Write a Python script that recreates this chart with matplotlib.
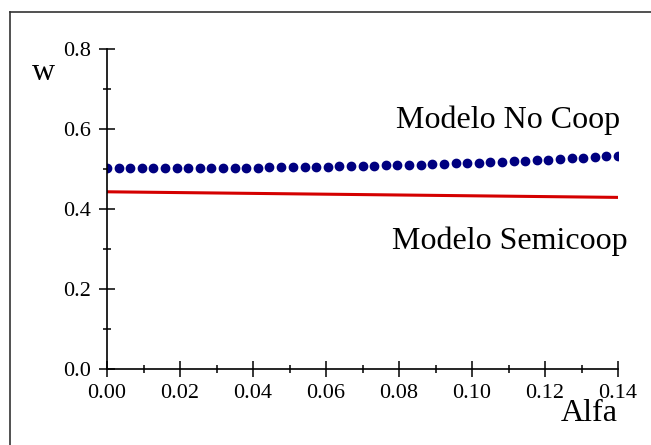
import matplotlib
matplotlib.use('Agg')
import matplotlib.pyplot as plt
from matplotlib.lines import Line2D
from matplotlib.ticker import MultipleLocator, FormatStrFormatter

plt.rcParams['font.family'] = ['Liberation Serif', 'DejaVu Serif']

# Modelo No Coop (puntos)
alfa_nc = [0.0000, 0.0032, 0.0064, 0.0095, 0.0127, 0.0159, 0.0191, 0.0223, 0.0255,
           0.0286, 0.0318, 0.0350, 0.0382, 0.0414, 0.0445, 0.0477, 0.0509, 0.0541,
           0.0573, 0.0605, 0.0636, 0.0668, 0.0700, 0.0732, 0.0764, 0.0795, 0.0827,
           0.0859, 0.0891, 0.0923, 0.0955, 0.0986, 0.1018, 0.1050, 0.1082, 0.1114,
           0.1145, 0.1177, 0.1209, 0.1241, 0.1273, 0.1305, 0.1336, 0.1368, 0.1400]
w_nc = [0.5020, 0.5020, 0.5020, 0.5020, 0.5021, 0.5021, 0.5022, 0.5023, 0.5024,
        0.5026, 0.5028, 0.5030, 0.5032, 0.5035, 0.5038, 0.5041, 0.5045, 0.5049,
        0.5053, 0.5058, 0.5063, 0.5069, 0.5075, 0.5081, 0.5088, 0.5095, 0.5103,
        0.5111, 0.5120, 0.5129, 0.5139, 0.5149, 0.5160, 0.5171, 0.5183, 0.5195,
        0.5208, 0.5221, 0.5235, 0.5249, 0.5264, 0.5280, 0.5296, 0.5313, 0.5330]

# Modelo Semicoop (linea)
alfa_sc = [0.0, 0.035, 0.07, 0.105, 0.14]
w_sc = [0.443, 0.4395, 0.436, 0.4325, 0.429]

fig = plt.figure(figsize=(6.51, 4.45), dpi=100)
ax = fig.add_axes([0.1644, 0.1708, 0.785, 0.7191])

ax.plot(alfa_sc, w_sc, color='#d40000', linewidth=2.2, solid_capstyle='round')
ax.plot(alfa_nc, w_nc, linestyle='none', marker='o', markersize=6,
        color='#000080')

ax.set_xlim(0, 0.14)
ax.set_ylim(0, 0.8)
ax.spines['top'].set_visible(False)
ax.spines['right'].set_visible(False)
ax.spines['left'].set_linewidth(1.2)
ax.spines['bottom'].set_linewidth(1.2)

ax.xaxis.set_major_locator(MultipleLocator(0.02))
ax.xaxis.set_minor_locator(MultipleLocator(0.01))
ax.yaxis.set_major_locator(MultipleLocator(0.2))
ax.yaxis.set_minor_locator(MultipleLocator(0.1))
ax.xaxis.set_major_formatter(FormatStrFormatter('%.2f'))
ax.yaxis.set_major_formatter(FormatStrFormatter('%.1f'))
ax.tick_params(which='major', direction='inout', length=11, width=1.1,
               labelsize=16)
ax.tick_params(axis='x', which='major', pad=5)
ax.tick_params(axis='y', which='major', pad=6)
ax.tick_params(which='minor', direction='inout', length=6, width=1.1)

ax.text(0.1405, 0.6025, 'Modelo No Coop', fontsize=23, ha='right', va='baseline')
ax.text(0.1425, 0.30, 'Modelo Semicoop', fontsize=23, ha='right', va='baseline')

fig.text(44 / 651, 1 - 80 / 445, 'w', fontsize=23, ha='center', va='baseline')
fig.text(589 / 651, 1 - 421 / 445, 'Alfa', fontsize=23, ha='center', va='baseline')

# marco de la figura
fig.add_artist(Line2D([10 / 651, 10 / 651], [0, 1 - 12 / 445],
                      transform=fig.transFigure, color='#333333', linewidth=1.2))
fig.add_artist(Line2D([10 / 651, 1], [1 - 12 / 445, 1 - 12 / 445],
                      transform=fig.transFigure, color='#333333', linewidth=1.2))

plt.savefig('out.png', dpi=100)
